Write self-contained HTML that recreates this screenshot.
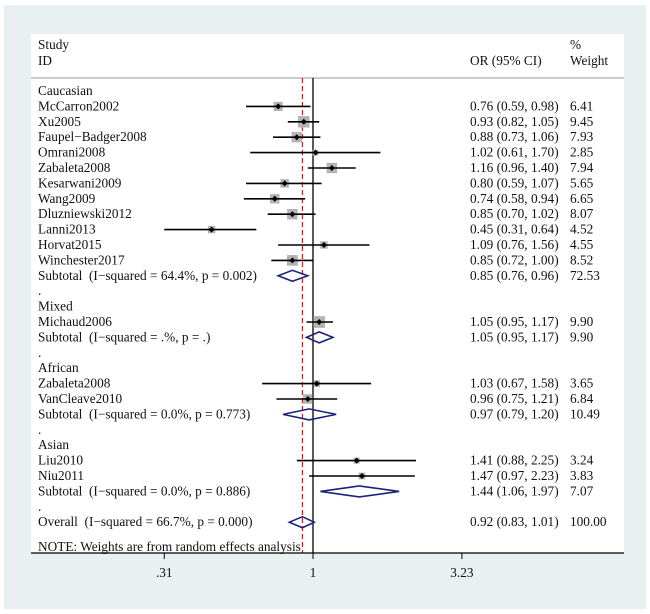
<!DOCTYPE html>
<html><head><meta charset="utf-8"><style>
body{margin:0;width:650px;height:614px;background:#fff;overflow:hidden}
svg{display:block}
text{font-family:"Liberation Serif",serif;font-size:13.3px;fill:#111;white-space:pre}
</style></head><body>
<svg id="chart" width="650" height="614">
<rect x="4" y="5" width="642" height="604" fill="#e9f0f2"/>
<rect x="31" y="34" width="593" height="519" fill="#fff"/>
<text x="38" y="49">Study</text>
<text x="38" y="65">ID</text>
<text x="470" y="65">OR (95% CI)</text>
<text x="570" y="49">%</text>
<text x="570" y="65">Weight</text>
<line x1="31" y1="78" x2="624" y2="78" stroke="#999" stroke-width="1"/>
<g id="marks"></g>
<text x="38" y="551">NOTE: Weights are from random effects analysis</text>
<line x1="31" y1="553" x2="624" y2="553" stroke="#000" stroke-width="1.2"/>
</svg>
<script>
const labels=["Caucasian","McCarron2002","Xu2005","Faupel\u2212Badger2008","Omrani2008","Zabaleta2008","Kesarwani2009","Wang2009","Dluzniewski2012","Lanni2013","Horvat2015","Winchester2017","Subtotal  (I\u2212squared = 64.4%, p = 0.002)",".","Mixed","Michaud2006","Subtotal  (I\u2212squared = .%, p = .)",".","African","Zabaleta2008","VanCleave2010","Subtotal  (I\u2212squared = 0.0%, p = 0.773)",".","Asian","Liu2010","Niu2011","Subtotal  (I\u2212squared = 0.0%, p = 0.886)",".","Overall  (I\u2212squared = 66.7%, p = 0.000)"];
const kinds=["h","s","s","s","s","s","s","s","s","s","s","s","d","h","h","s","d","h","h","s","s","d","h","h","s","s","d","h","d"];
const orVals=[null,0.76,0.93,0.88,1.02,1.16,0.80,0.74,0.85,0.45,1.09,0.85,0.85,null,null,1.05,1.05,null,null,1.03,0.96,0.97,null,null,1.41,1.47,1.44,null,0.92];
const loVals=[null,0.59,0.82,0.73,0.61,0.96,0.59,0.58,0.70,0.31,0.76,0.72,0.76,null,null,0.95,0.95,null,null,0.67,0.75,0.79,null,null,0.88,0.97,1.06,null,0.83];
const hiVals=[null,0.98,1.05,1.06,1.70,1.40,1.07,0.94,1.02,0.64,1.56,1.00,0.96,null,null,1.17,1.17,null,null,1.58,1.21,1.20,null,null,2.25,2.23,1.97,null,1.01];
const weights=[null,6.41,9.45,7.93,2.85,7.94,5.65,6.65,8.07,4.52,4.55,8.52,72.53,null,null,9.90,9.90,null,null,3.65,6.84,10.49,null,null,3.24,3.83,7.07,null,100.00];
const ticks=[0.31,1,3.23];
const tickLabels=[".31","1","3.23"];
const overallOR=0.92;
const NS="http://www.w3.org/2000/svg";
const svg=document.getElementById('chart'), g=document.getElementById('marks');
const xMin=0.31,xMax=3.23;
function X(v){const c=Math.max(xMin,Math.min(xMax,v));return 313+127*Math.log(c);}
function Y(i){return 91+15.4*i;}
function mk(t,a,p){const e=document.createElementNS(NS,t);for(const k in a)e.setAttribute(k,a[k]);(p||g).appendChild(e);return e;}
let l=mk('line',{x1:X(1),y1:78,x2:X(1),y2:553,stroke:'#000','stroke-width':1.3});


l=mk('line',{x1:X(overallOR),y1:78,x2:X(overallOR),y2:553,stroke:'#c0282d','stroke-width':1.2,'stroke-dasharray':'5,3'});


labels.forEach((lab,i)=>{
  const y=Y(i);
  const t=mk('text',{x:38,y:y+4});t.textContent=lab;
  
  
  if(orVals[i]==null)return;
  const f=v=>v.toFixed(2);
  const o=mk('text',{x:470,y:y+4});o.textContent=f(orVals[i])+" ("+f(loVals[i])+", "+f(hiVals[i])+")";
  
  
  const w=mk('text',{x:570,y:y+4});w.textContent=weights[i].toFixed(2);
  
  
  if(kinds[i]==='s'){
    const s=Math.max(5,4.2*Math.sqrt(weights[i])-1.5),cx=X(orVals[i]);
    const b=mk('rect',{x:cx-s/2,y:y-s/2,width:s,height:s,fill:'#b3b3b3'});
    
    
    const c=mk('line',{x1:X(loVals[i]),y1:y,x2:X(hiVals[i]),y2:y,stroke:'#000','stroke-width':1.6});
    
    
    const d=mk('path',{d:`M${cx-3},${y}L${cx},${y-3}L${cx+3},${y}L${cx},${y+3}Z`,fill:'#000'});
    
    
  } else {
    const a=X(loVals[i]),b=X(hiVals[i]),m=X(orVals[i]);
    const d=mk('path',{d:`M${a},${y}L${m},${y-5.5}L${b},${y}L${m},${y+5.5}Z`,fill:'none',stroke:'#1b237a','stroke-width':1.6});
    
    
  }
});
ticks.forEach((v,i)=>{
  const tk=mk('line',{x1:X(v),y1:553,x2:X(v),y2:559,stroke:'#000','stroke-width':1},svg);
  
  
  const t=mk('text',{x:X(v),y:577,'text-anchor':'middle'},svg);t.textContent=tickLabels[i];
  
  
});
</script>
</body></html>
